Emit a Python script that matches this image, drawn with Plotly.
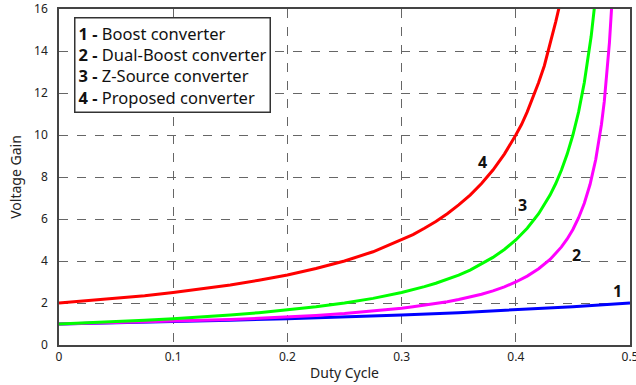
import plotly.graph_objects as go

# Voltage gain vs duty cycle for four converter topologies
duty_boost = [0.0, 0.05, 0.10, 0.15, 0.20, 0.25, 0.30, 0.35, 0.40, 0.45, 0.50]
gain_boost = [1.00, 1.05, 1.11, 1.18, 1.25, 1.33, 1.43, 1.54, 1.67, 1.82, 2.00]

duty_dual = [0.0, 0.025, 0.05, 0.075, 0.10, 0.125, 0.15, 0.175, 0.20, 0.225, 0.25,
             0.275, 0.30, 0.31, 0.32, 0.33, 0.34, 0.35, 0.36, 0.37, 0.38, 0.39,
             0.40, 0.41, 0.42, 0.43, 0.44, 0.445, 0.45, 0.455, 0.46, 0.465, 0.47,
             0.4725, 0.475, 0.4775, 0.48, 0.482, 0.4845]
gain_dual = [1.00, 1.03, 1.06, 1.09, 1.13, 1.17, 1.21, 1.27, 1.33, 1.41, 1.50,
             1.61, 1.75, 1.82, 1.89, 1.97, 2.06, 2.17, 2.29, 2.42, 2.58, 2.77,
             3.00, 3.28, 3.63, 4.07, 4.67, 5.05, 5.50, 6.06, 6.75, 7.64, 8.83,
             9.59, 10.5, 11.6, 13.0, 14.4, 16.6]

duty_zsrc = [0.0, 0.025, 0.05, 0.075, 0.10, 0.125, 0.15, 0.175, 0.20, 0.225, 0.25,
             0.275, 0.30, 0.31, 0.32, 0.33, 0.34, 0.35, 0.36, 0.37, 0.38, 0.39,
             0.40, 0.41, 0.42, 0.43, 0.435, 0.44, 0.445, 0.45, 0.455, 0.46,
             0.463, 0.466, 0.4695]
gain_zsrc = [1.00, 1.05, 1.11, 1.18, 1.25, 1.33, 1.43, 1.54, 1.67, 1.82, 2.00,
             2.22, 2.50, 2.63, 2.78, 2.94, 3.13, 3.33, 3.57, 3.85, 4.17, 4.55,
             5.00, 5.56, 6.25, 7.14, 7.69, 8.33, 9.09, 10.0, 11.1, 12.5,
             13.5, 14.7, 16.4]

duty_prop = [0.0, 0.025, 0.05, 0.075, 0.10, 0.125, 0.15, 0.175, 0.20, 0.225, 0.25,
             0.275, 0.30, 0.31, 0.32, 0.33, 0.34, 0.35, 0.36, 0.37, 0.38, 0.39,
             0.40, 0.405, 0.41, 0.415, 0.42, 0.425, 0.43, 0.435, 0.438]
gain_prop = [2.00, 2.11, 2.22, 2.35, 2.50, 2.67, 2.86, 3.08, 3.33, 3.64, 4.00,
             4.44, 5.00, 5.26, 5.56, 5.88, 6.25, 6.67, 7.14, 7.69, 8.33, 9.09,
             10.0, 10.5, 11.1, 11.8, 12.5, 13.3, 14.3, 15.4, 16.1]

series = [
    ("Boost converter", duty_boost, gain_boost, "#0000ff"),
    ("Dual-Boost converter", duty_dual, gain_dual, "#ff00ff"),
    ("Z-Source converter", duty_zsrc, gain_zsrc, "#00ff00"),
    ("Proposed converter", duty_prop, gain_prop, "#ff0000"),
]

# curve number labels: (text, duty, gain)
curve_labels = [("1", 0.489, 2.55), ("2", 0.453, 4.3), ("3", 0.406, 6.65), ("4", 0.371, 8.7)]

x_ticks = [0, 0.1, 0.2, 0.3, 0.4, 0.5]
x_tick_text = ["0", "0.1", "0.2", "0.3", "0.4", "0.5"]
y_ticks = [0, 2, 4, 6, 8, 10, 12, 14, 16]

FONT = "Noto Sans"

fig = go.Figure()
for name, xs, ys, color in series:
    fig.add_trace(go.Scatter(
        x=xs, y=ys, mode="lines", name=name,
        line=dict(color=color, width=3, shape="linear"),
        showlegend=False, cliponaxis=True,
    ))

for txt, dx, gy in curve_labels:
    fig.add_annotation(x=dx, y=gy, text=f"<b>{txt}</b>", showarrow=False,
                       font=dict(family=FONT, size=16, color="#111"))

legend_text = "<br>".join(
    f"<b>{i}</b> <b>-</b> {name}" for i, (name, *_rest) in enumerate(series, start=1)
)
fig.add_annotation(
    xref="paper", yref="paper", x=0.026, y=0.977, xanchor="left", yanchor="top",
    text=legend_text, showarrow=False, align="left",
    font=dict(family=FONT, size=16.5, color="#111"),
    bordercolor="#333", borderwidth=1.5, borderpad=3, bgcolor="white",
)

axis_common = dict(
    showgrid=True, gridcolor="#666", griddash="dash", gridwidth=1,
    showline=True, linecolor="#444", linewidth=1.5, mirror=True,
    zeroline=False, ticks="", ticklabeloverflow="allow",
    tickfont=dict(family=FONT, size=12, color="#222"),
)

fig.update_xaxes(range=[0, 0.5], tickvals=x_ticks, ticktext=x_tick_text,
                 title=dict(text="Duty Cycle", font=dict(family=FONT, size=14, color="#222"),
                            standoff=4),
                 **axis_common)
fig.update_yaxes(range=[0, 16], tickvals=y_ticks, ticklabelstandoff=7,
                 title=dict(text="Voltage Gain", font=dict(family=FONT, size=14, color="#222"),
                            standoff=9),
                 **axis_common)

fig.update_layout(
    width=636, height=385,
    margin=dict(l=59, r=6, t=9, b=40, autoexpand=False),
    paper_bgcolor="white", plot_bgcolor="white",
    font=dict(family=FONT),
)

fig.write_html("out.html")
